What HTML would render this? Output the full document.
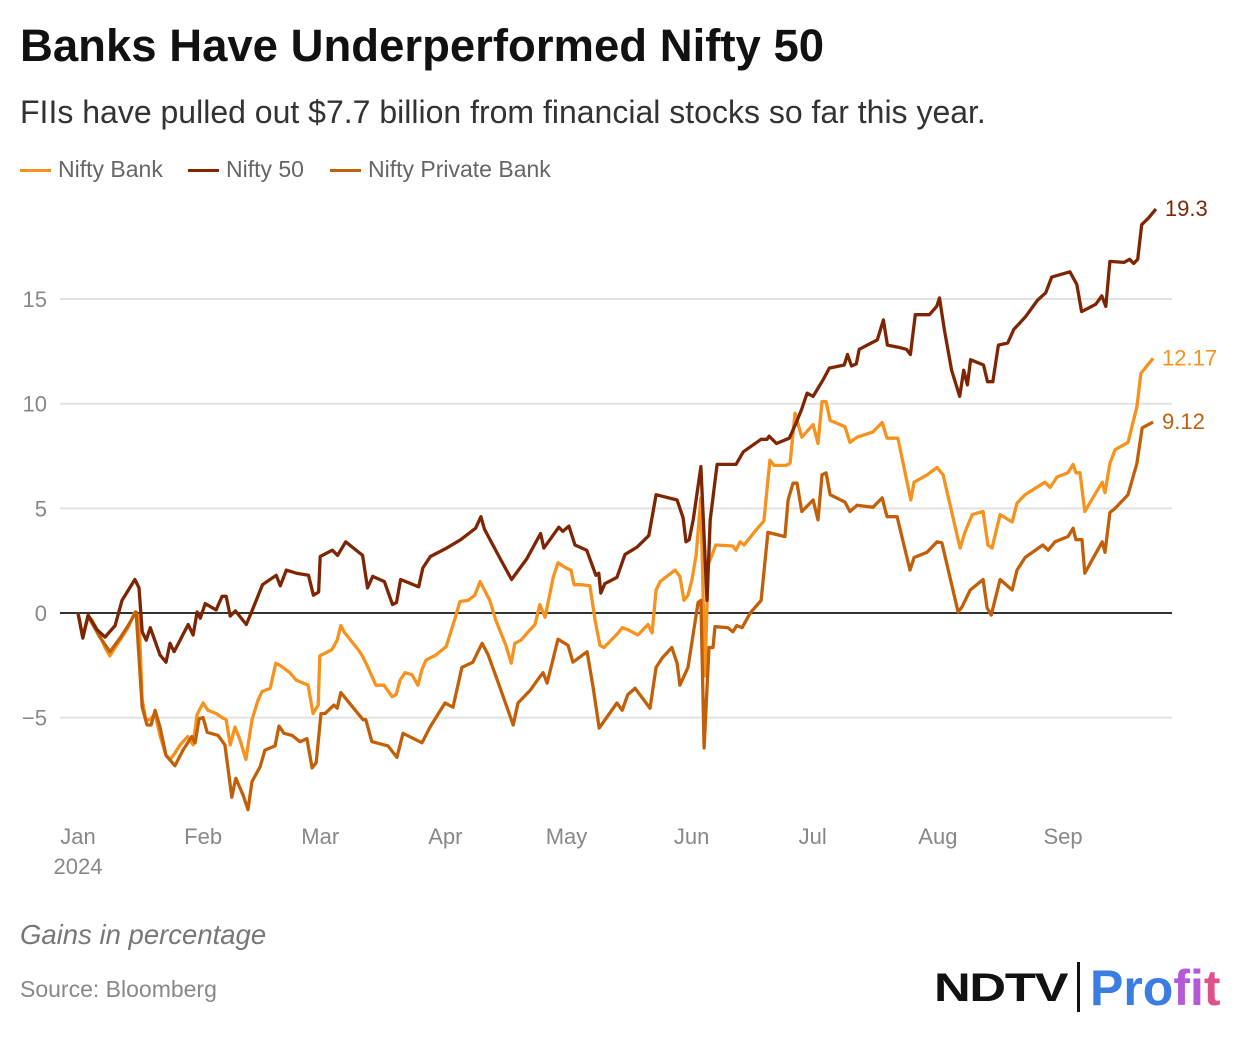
<!DOCTYPE html>
<html><head><meta charset="utf-8">
<style>
body{margin:0;background:#fff;font-family:"Liberation Sans",sans-serif;}
#wrap{position:relative;width:1244px;height:1038px;overflow:hidden;}
.t{position:absolute;white-space:nowrap;}
</style></head>
<body><div id="wrap">
<div class="t" style="left:20px;top:20px;font-size:45.5px;font-weight:bold;color:#111;">Banks Have Underperformed Nifty 50</div>
<div class="t" style="left:20px;top:94px;font-size:32px;color:#333;">FIIs have pulled out $7.7 billion from financial stocks so far this year.</div>
<div style="position:absolute;left:20px;top:156px;font-size:23px;color:#666;">
 <span style="position:absolute;left:0;top:0;white-space:nowrap"><span style="display:inline-block;width:31px;height:3px;background:#f6921e;vertical-align:middle;margin-right:7px"></span>Nifty Bank</span>
 <span style="position:absolute;left:168px;top:0;white-space:nowrap"><span style="display:inline-block;width:31px;height:3px;background:#7e2604;vertical-align:middle;margin-right:7px"></span>Nifty 50</span>
 <span style="position:absolute;left:310px;top:0;white-space:nowrap"><span style="display:inline-block;width:31px;height:3px;background:#c2600a;vertical-align:middle;margin-right:7px"></span>Nifty Private Bank</span>
</div>
<svg id="chart" width="1244" height="1038" style="position:absolute;left:0;top:0"></svg>
<div class="t" style="left:20px;top:919px;font-size:27.5px;font-style:italic;color:#777;">Gains in percentage</div>
<div class="t" style="left:20px;top:976px;font-size:23px;color:#888;">Source: Bloomberg</div>
<div style="position:absolute;left:934px;top:962px;height:50px;">
 <span class="t" style="left:0;top:4px;font-size:40px;font-weight:bold;color:#111;letter-spacing:-1px;transform:scaleX(1.27);transform-origin:left">NDTV</span>
 <span style="position:absolute;left:143px;top:0;width:3px;height:50px;background:#111"></span>
 <span class="t" style="left:156px;top:-3px;font-size:50px;font-weight:bold;color:#3b7de0;">Pro<span style="color:#b45ad6">fi</span><span style="color:#e0508a">t</span></span>
</div>
</div>
<script>
const yTicks=[-5,0,5,10,15];
const monthLabels=["Jan","Feb","Mar","Apr","May","Jun","Jul","Aug","Sep"];
const monthDays=[0,31,60,91,121,152,182,213,244];
const n50Days=[0,1.2,2.5,4.7,6.7,9.2,10.9,14.1,15.1,15.9,16.9,17.9,20.3,21.8,22.8,23.8,27.3,28.5,29.5,30.3,31.5,34.2,35.7,36.7,37.7,39,41.7,43.2,45.7,49.1,50.1,51.6,54.1,57.1,58.3,59.6,60,63,64.3,66.3,70.5,71.7,73,75.9,77.9,78.9,79.9,84.4,85.4,87.3,91.3,94.8,98.5,99.8,100.7,104.7,107.4,111.2,114.6,115.4,119.1,120.1,121.6,123.1,126,128.3,129,129.5,130.5,133.5,135.5,138.5,141.4,143.2,148.4,149.9,150.6,151.4,152.4,154.3,155.8,156.6,158.3,163,164.8,169.2,170.7,171.2,173,176.2,177.7,179.2,180.6,182.1,184.6,186.1,189.8,190.6,191.6,192.8,193.5,198,199.5,200.5,203.2,205.2,206.2,207.4,210.9,212.7,213.4,214.6,216.4,218.4,219.4,220.3,221.1,224.3,225.3,226.6,228,230.3,231.8,234.7,237.7,239.7,241.2,245.7,247.4,248.6,252.1,253.6,254.6,255.6,259.1,260.5,261.5,262.5,263.5,265.3,267];
const n50Vals=[0,-1.2,-0.1,-0.8,-1.15,-0.6,0.6,1.6,1.2,-0.9,-1.3,-0.7,-2.0,-2.35,-1.45,-1.85,-0.55,-1.05,0.05,-0.25,0.45,0.15,0.8,0.8,-0.15,0.1,-0.55,0.15,1.35,1.8,1.3,2.05,1.9,1.8,0.85,1.0,2.7,3.0,2.75,3.4,2.75,1.2,1.75,1.5,0.4,0.5,1.6,1.25,2.15,2.7,3.1,3.5,4.05,4.6,4.0,2.55,1.6,2.6,3.8,3.1,4.1,3.9,4.15,3.25,3.0,1.8,1.9,0.95,1.4,1.7,2.8,3.15,3.7,5.65,5.4,4.55,3.4,3.5,4.45,7.0,0.6,4.45,7.1,7.1,7.7,8.3,8.3,8.45,8.1,8.35,9.0,9.7,10.5,10.35,11.15,11.7,11.85,12.35,11.8,11.9,12.6,13.05,14.0,12.8,12.7,12.6,12.35,14.25,14.25,14.65,15.05,13.55,11.6,10.35,11.6,10.9,12.1,11.85,11.05,11.05,12.8,12.9,13.55,14.15,14.95,15.3,16.05,16.3,15.7,14.4,14.75,15.15,14.65,16.8,16.75,16.9,16.7,16.9,18.55,18.9,19.3];
const bankDays=[0,1.2,2.5,3.5,5.4,6.7,7.9,8.9,10.4,12.4,14.1,15.1,15.9,16.8,17.8,19.1,20.3,21.8,22.8,23.8,25.3,27.2,28.5,29.5,31,32.2,34.2,35.7,36.7,37.7,38.9,40.1,41.6,43.1,44.6,45.6,47.6,49,50,52.5,54,57,58.2,59.5,59.9,62.9,64.2,65.1,66.1,69.4,70.3,71.6,73.8,75.8,77.8,78.8,79.8,81,82.7,84.2,85.2,86.2,88.7,91.2,92.1,93.4,94.6,96.6,98.3,99.6,102,103.5,106,107.3,108.2,109.7,112,113.2,114.4,115.7,117.7,118.9,120.9,122.1,122.9,124.8,126.8,128.1,129.3,130.3,133.8,134.8,136.2,138.7,141.2,142.2,143.2,144.2,147.9,149.1,150.1,151.1,152.1,153.1,154.3,155.3,156.1,157,158,162.2,163,164,165,167.9,169.9,171.4,172.4,175.4,176.4,177.6,179.3,182.1,183.3,184.3,185.3,186.3,190,191.2,193,196.9,199.2,200.4,203.1,206.3,207.1,210.3,212.8,214.3,218.5,219.7,221.5,224.2,225.4,226.4,228.4,231.4,232.6,234.6,239.5,240.8,242.5,245.2,246.5,247.2,248.2,249.4,253.7,254.4,255.6,256.9,260.1,262.3,263.3,266.3];
const bankVals=[0,-1.15,-0.15,-0.35,-1.05,-1.65,-2.05,-1.75,-1.3,-0.7,0.05,-0.2,-4.15,-5.1,-5.1,-4.8,-5.85,-6.8,-7.0,-6.75,-6.3,-5.9,-6.3,-4.85,-4.3,-4.65,-4.8,-5.0,-5.1,-6.3,-5.45,-6.05,-7.0,-5.1,-4.15,-3.75,-3.6,-2.4,-2.5,-2.85,-3.2,-3.45,-4.8,-4.4,-2.05,-1.75,-1.3,-0.6,-0.95,-1.75,-2.0,-2.5,-3.45,-3.45,-4.0,-3.9,-3.2,-2.85,-2.95,-3.45,-2.7,-2.25,-2.0,-1.6,-1.05,-0.25,0.55,0.6,0.85,1.5,0.6,-0.35,-1.55,-2.4,-1.45,-1.3,-0.8,-0.55,0.4,-0.2,1.7,2.4,2.15,2.05,1.35,1.35,1.3,-0.35,-1.55,-1.65,-0.95,-0.7,-0.8,-1.05,-0.55,-0.95,1.1,1.5,2.05,1.75,0.6,0.85,1.6,2.75,5.5,-3.0,2.3,2.75,3.25,3.2,3.0,3.4,3.25,3.95,4.4,7.3,7.05,7.05,7.15,9.55,8.4,9.0,8.1,10.1,10.1,9.2,8.9,8.15,8.4,8.65,9.1,8.35,8.35,5.4,6.25,6.6,6.95,6.6,3.1,3.85,4.7,4.85,3.25,3.1,4.7,4.35,5.25,5.65,6.25,6.0,6.5,6.7,7.1,6.7,6.7,4.85,6.25,5.75,7.15,7.8,8.15,9.85,11.45,12.17];
const pvtDays=[0,1.2,2.5,5.4,7.9,10.4,12.4,14.4,15.9,17.1,18.1,19.1,20.3,21.8,24,26,28.2,29,30,31,32,34.7,36.4,38.1,39.1,40.9,42.1,43.1,45.1,46.3,48.8,49.8,51,53,55,56.7,58,59,60.2,61.2,63.4,64.2,65.1,66.6,70.6,71.3,72.8,76.8,79,80.5,85.2,87.2,90.9,92.9,95.1,97.8,100.1,101.6,104.5,107.8,109,112,114.4,115.2,116.2,118.9,121.4,122.6,126.1,127.6,129.1,133.5,134.8,136.2,138,141.7,143.2,144.7,147.1,148.4,149.1,151.1,153.6,154.3,155.1,156.3,157.3,157.8,161,162.2,163.2,164.5,166.5,169.2,170.9,175.1,175.9,177.1,178.1,179.3,182.1,183.3,184.3,185.3,186.3,190,191.2,193,196.9,199.2,200.4,202.9,206.1,207.1,210.3,212.8,214,218,219,221,224.2,225.2,226.2,228.4,231.4,232.6,234.6,239,240.3,242,245.2,246.5,247.2,248.7,249.4,253.7,254.4,255.6,256.9,260.1,262.3,263.6,266.3];
const pvtVals=[0,-1.15,-0.15,-1.15,-1.85,-1.2,-0.6,0.05,-4.5,-5.35,-5.35,-4.65,-5.45,-6.8,-7.3,-6.55,-5.9,-6.2,-5.05,-5.0,-5.7,-5.85,-6.3,-8.8,-7.9,-8.7,-9.4,-8.05,-7.35,-6.55,-6.35,-5.4,-5.75,-5.85,-6.15,-6.0,-7.4,-7.15,-4.8,-4.8,-4.4,-4.55,-3.8,-4.15,-5.1,-5.1,-6.15,-6.35,-6.9,-5.75,-6.2,-5.45,-4.3,-4.5,-2.6,-2.35,-1.45,-2.0,-3.55,-5.35,-4.3,-3.7,-3.05,-2.85,-3.35,-1.25,-1.55,-2.35,-1.85,-3.55,-5.5,-4.3,-4.65,-3.9,-3.6,-4.55,-2.6,-2.15,-1.65,-2.4,-3.45,-2.6,0.5,0.6,-6.45,-1.65,-1.65,-0.65,-0.7,-0.9,-0.6,-0.7,0.0,0.6,3.85,3.65,5.4,6.2,6.2,4.85,5.4,4.45,6.6,6.7,5.65,5.3,4.85,5.15,5.05,5.5,4.6,4.6,2.05,2.65,2.9,3.4,3.35,0.05,0.3,1.1,1.6,0.25,-0.1,1.6,1.1,2.05,2.65,3.25,3.0,3.4,3.65,4.05,3.5,3.5,1.9,3.4,2.9,4.8,5.0,5.65,7.15,8.85,9.12];

const NS="http://www.w3.org/2000/svg";
const svg=document.getElementById('chart');
function xS(d){return 78+d*4.037;}
function yS(v){return 613-v*20.93;}
function mk(tag,attrs){const e=document.createElementNS(NS,tag);for(const k in attrs)e.setAttribute(k,attrs[k]);svg.appendChild(e);return e;}
yTicks.forEach(v=>{
 if(v!==0){const g=mk('line',{x1:60,x2:1172,y1:yS(v),y2:yS(v),stroke:'#e2e2e2','stroke-width':2});
 
 }
 const t=mk('text',{x:47,y:yS(v)+8,'text-anchor':'end','font-size':22,fill:'#888'});
 
 
 t.textContent=v<0?'−'+Math.abs(v):String(v);
});
monthLabels.forEach((m,i)=>{
 const t=mk('text',{x:xS(monthDays[i]),y:844,'text-anchor':'middle','font-size':22,fill:'#888'});
 
 
 t.textContent=m;
});
const yr=mk('text',{x:xS(0),y:874,'text-anchor':'middle','font-size':22,fill:'#888'});


yr.textContent='2024';
const series=[[bankDays,bankVals,'#f6921e','nifty-bank-line'],[pvtDays,pvtVals,'#c2600a','nifty-private-bank-line'],[n50Days,n50Vals,'#7e2604','nifty-50-line']];
const zl=mk('line',{x1:60,x2:1172,y1:yS(0),y2:yS(0),stroke:'#333','stroke-width':2});


series.forEach(s=>{
 const p=mk('polyline',{points:s[0].map((d,i)=>xS(d).toFixed(1)+','+yS(s[1][i]).toFixed(1)).join(' '),fill:'none',stroke:s[2],'stroke-width':3.3,'stroke-linejoin':'round'});
 
 
 const n=s[1].length-1;
 const t=mk('text',{x:xS(s[0][n])+9,y:yS(s[1][n])+7,'font-size':22,fill:s[2]});
 
 
 t.textContent=s[1][n];
});
</script>
</body></html>
